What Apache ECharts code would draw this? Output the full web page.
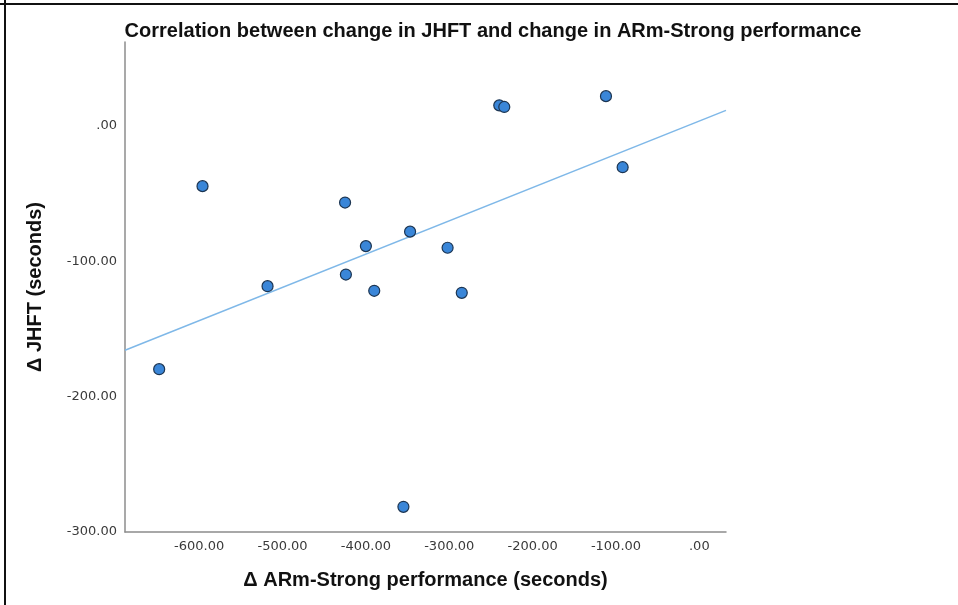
<!DOCTYPE html>
<html>
<head>
<meta charset="utf-8">
<title>JHFT vs ARm-Strong</title>
<script src="https://cdn.jsdelivr.net/npm/echarts@6/dist/echarts.min.js"></script>
<style>
  html, body { margin: 0; padding: 0; background: #fff; }
  #main { width: 958px; height: 605px; }
</style>
</head>
<body>
<div id="main"></div>
<script>
// Δ ARm-Strong performance (x) and Δ JHFT (y), seconds
const armDelta = [-648, -596, -518, -425, -424, -400, -390, -347, -355, -302, -285, -240, -234, -112, -92];
const jhftDelta = [-179.7, -44.5, -118.4, -56.6, -109.8, -88.8, -121.8, -78.1, -281.4, -90.0, -123.3, 15.2, 14.0, 22.0, -30.5];

// fit line end points
const fitX = [-689, 32];
const fitY = [-165.7, 11.5];

const xTicks = [-600, -500, -400, -300, -200, -100, 0];
const yTicks = [-300, -200, -100, 0];

const fmt = v => (v === 0 ? '.00' : v.toFixed(2));

const chart = echarts.init(document.getElementById('main'), null, { renderer: 'canvas' });

const nameStyle = {
  fontFamily: 'Liberation Sans',
  fontWeight: 'bold',
  fontSize: 20,
  color: '#111',
};

const option = {
  animation: false,
  backgroundColor: '#fff',
  title: {
    text: 'Correlation between change in JHFT and change in ARm-Strong performance',
    left: 488,
    textAlign: 'center',
    top: 16,
    textStyle: nameStyle,
  },
  grid: {
    left: 125,
    right: 232,
    top: 42,
    bottom: 73,
  },
  xAxis: {
    type: 'value',
    min: -689,
    max: 32,
    name: 'Δ ARm-Strong performance (seconds)',
    nameLocation: 'middle',
    nameGap: 38,
    nameTextStyle: nameStyle,
    axisLine: { onZero: false, lineStyle: { color: '#8c8c8c', width: 1.5 } },
    axisTick: { show: false },
    splitLine: { show: false },
    axisLabel: {
      customValues: xTicks,
      formatter: fmt,
      color: '#3a3a3a',
      fontFamily: 'DejaVu Sans',
      fontSize: 13,
      margin: 8,
    },
  },
  yAxis: {
    type: 'value',
    min: -300,
    max: 62,
    name: 'Δ JHFT (seconds)',
    nameLocation: 'middle',
    nameGap: 80,
    nameRotate: 90,
    nameTextStyle: nameStyle,
    axisLine: { show: true, onZero: false, lineStyle: { color: '#8c8c8c', width: 1.5 } },
    axisTick: { show: false },
    splitLine: { show: false },
    axisLabel: {
      customValues: yTicks,
      formatter: fmt,
      color: '#3a3a3a',
      fontFamily: 'DejaVu Sans',
      fontSize: 13,
      margin: 8,
    },
  },
  graphic: [
    { type: 'line', shape: { x1: 0, y1: 4, x2: 958, y2: 4 }, style: { stroke: '#111', lineWidth: 2 } },
    { type: 'line', shape: { x1: 5, y1: 0, x2: 5, y2: 605 }, style: { stroke: '#111', lineWidth: 2 } },
  ],
  series: [
    {
      type: 'line',
      data: fitX.map((x, i) => [x, fitY[i]]),
      symbol: 'none',
      lineStyle: { color: '#7fb8e8', width: 1.5 },
      z: 1,
    },
    {
      type: 'scatter',
      data: armDelta.map((x, i) => [x, jhftDelta[i]]),
      symbolSize: 11,
      itemStyle: {
        color: '#3a86d8',
        borderColor: '#1c3552',
        borderWidth: 1.2,
        opacity: 1,
      },
      z: 2,
    },
  ],
};

chart.setOption(option);
</script>
</body>
</html>
